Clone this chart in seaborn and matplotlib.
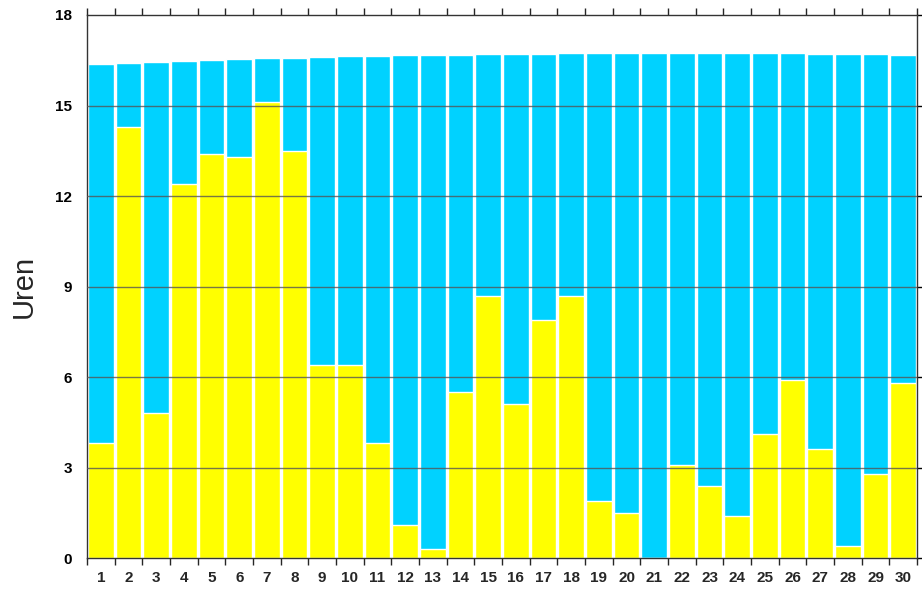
import numpy as np
import pandas as pd
import seaborn as sns
import matplotlib.pyplot as plt

# days of the month and hours
days = list(range(1, 31))
daglengte = [16.38, 16.42, 16.45, 16.48, 16.51, 16.54, 16.56, 16.59, 16.61, 16.63,
             16.65, 16.67, 16.68, 16.69, 16.70, 16.71, 16.72, 16.73, 16.74, 16.74,
             16.74, 16.74, 16.74, 16.74, 16.73, 16.73, 16.72, 16.71, 16.70, 16.69]
zonuren = [3.8, 14.3, 4.8, 12.4, 13.4, 13.3, 15.1, 13.5, 6.4, 6.4,
           3.8, 1.1, 0.3, 5.5, 8.7, 5.1, 7.9, 8.7, 1.9, 1.5,
           0.0, 3.1, 2.4, 1.4, 4.1, 5.9, 3.6, 0.4, 2.8, 5.8]
yticks = [0, 3, 6, 9, 12, 15, 18]

df = pd.DataFrame({"dag": days, "daglengte": daglengte, "zon": zonuren})

sns.set_style("white")
plt.rcParams["font.family"] = ["Liberation Sans", "DejaVu Sans"]

fig = plt.figure(figsize=(9.22, 5.95), dpi=100)
ax = fig.add_axes([0.0944, 0.062, 0.9002, 0.9128])

# day length behind, sunshine hours in front
sns.barplot(data=df, x="dag", y="daglengte", color="#00D2FF", saturation=1,
            width=0.93, ax=ax, zorder=1)
sns.barplot(data=df, x="dag", y="zon", color="#FFFF00", saturation=1,
            width=0.93, ax=ax, zorder=2)

ax.set_xlim(-0.5, 29.5)
ax.set_ylim(0, 18)
ax.set_yticks(yticks)
ax.set_yticklabels([str(t) for t in yticks], fontweight="bold", fontsize=11)
ax.set_xticks(range(30))
ax.set_xticklabels([str(d) for d in days], fontweight="bold", fontsize=11)
ax.tick_params(axis="x", length=0, pad=9)
ax.tick_params(axis="y", length=6, width=1, direction="out", pad=5, right=True,
               colors="black")
# ticks on bar boundaries, bottom and top
ax.set_xticks(np.arange(-0.5, 30, 1), minor=True)
ax.tick_params(axis="x", which="minor", length=5, width=1, direction="out",
               top=True, bottom=True)

for y in yticks[1:-1]:
    ax.axhline(y, color="#555555", lw=1, alpha=0.8, zorder=3)

for s in ax.spines.values():
    s.set_color("#333333")
    s.set_linewidth(1)

ax.set_xlabel("")
ax.set_ylabel("Uren", fontsize=21, labelpad=12)

fig.savefig("out.png", dpi=100)
